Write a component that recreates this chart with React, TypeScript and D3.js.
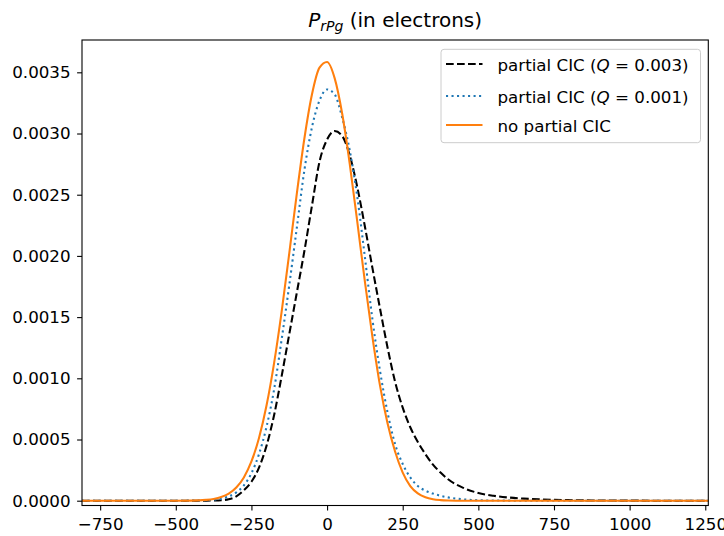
import React, { useEffect, useRef } from 'react';
import * as d3 from 'd3';

const xs = [-810, -600, -500, -450, -400, -375, -350, -325, -300, -275, -250, -225, -200, -175, -150, -125, -100, -75, -50, -25,
	0, 25, 50, 75, 100, 125, 150, 175, 200, 225, 250, 275, 300, 325, 350, 375, 400, 450, 500, 550, 600, 650, 700, 750, 800, 900, 1000, 1260];

const partialQ3 = [0, 0, 0, 0, 0.0000005, 0.0000015, 0.000004, 0.000012, 0.000035, 0.000085, 0.000155, 0.00027, 0.00045, 0.0007, 0.00102, 0.00136, 0.0017, 0.00204, 0.00241, 0.00277,
	0.00295, 0.00302, 0.00298, 0.00282, 0.00256, 0.00224, 0.0019, 0.00157, 0.00125, 0.00097, 0.00076, 0.0006, 0.00048, 0.00038, 0.000295, 0.00023, 0.000175, 0.000105, 0.000063, 0.00004, 0.000026, 0.000017, 0.000011, 0.000007, 0.0000045, 0.0000015, 0.0000005, 0];

const partialQ1 = [0, 0, 0, 0.000001, 0.000004, 0.000008, 0.000017, 0.000035, 0.000068, 0.000125, 0.000225, 0.00038, 0.000605, 0.00091, 0.00132, 0.00176, 0.00223, 0.0027, 0.00305, 0.00327,
	0.00336, 0.00332, 0.00313, 0.00286, 0.00248, 0.00199, 0.00148, 0.00106, 0.00072, 0.00046, 0.0003, 0.00019, 0.00012, 0.000082, 0.000058, 0.00004, 0.000027, 0.000011, 0.000004, 0.0000015, 0.0000005, 0, 0, 0, 0, 0, 0, 0];

const noPartial = [0, 0, 0, 0.0000006, 0.0000066, 0.0000143, 0.0000295, 0.0000578, 0.0001076, 0.0001903, 0.0003205, 0.0005127, 0.0007794, 0.0011265, 0.0015477, 0.0020208, 0.0025083, 0.0029592, 0.0033186, 0.0035378,
	0.0035848, 0.0034527, 0.003161, 0.0027507, 0.0022753, 0.0017893, 0.0013373, 0.00094, 0.00063, 0.0004, 0.00023, 0.00012, 0.00006, 0.000028, 0.000012, 0.000005, 0.000002, 0, 0, 0, 0, 0, 0, 0, 0, 0, 0, 0];

const xTicks = [-750, -500, -250, 0, 250, 500, 750, 1000, 1250];
const yTicks = [0, 0.0005, 0.001, 0.0015, 0.002, 0.0025, 0.003, 0.0035];

const series = [
	{ name: 'partial CIC (', q: '0.003', values: partialQ3, color: '#000000', dash: '7.7,3.3' },
	{ name: 'partial CIC (', q: '0.001', values: partialQ1, color: '#1f77b4', dash: '2.08,3.43' },
	{ name: 'no partial CIC', q: null, values: noPartial, color: '#ff7f0e', dash: null },
];

const W = 724, H = 536;
const left = 82, right = 708.3, top = 40, bottom = 505.5;
const font = 'DejaVu Sans';
const fs = 16.7;

function App() {
	const ref = useRef(null);

	useEffect(() => {
		const svg = d3.select(ref.current);
		svg.selectAll('*').remove();

		const x = d3.scaleLinear().domain([-810, 1260]).range([left, right]);
		const y = d3.scaleLinear().domain([-0.0000392, 0.003764]).range([bottom, top]);

		svg.append('defs').append('clipPath').attr('id', 'plotclip')
			.append('rect').attr('x', left).attr('y', top).attr('width', right - left).attr('height', bottom - top);

		const line = d3.line().x((d) => x(d[0])).y((d) => y(d[1])).curve(d3.curveMonotoneX);

		const g = svg.append('g').attr('clip-path', 'url(#plotclip)');
		series.forEach((s) => {
			g.append('path')
				.datum(xs.map((v, i) => [v, s.values[i]]))
				.attr('d', line)
				.attr('fill', 'none')
				.attr('stroke', s.color)
				.attr('stroke-width', 2.08)
				.attr('stroke-dasharray', s.dash)
				.attr('stroke-linecap', 'butt');
		});

		// axes
		const xAxis = svg.append('g').attr('transform', `translate(0,${bottom})`)
			.call(d3.axisBottom(x).tickValues(xTicks).tickSize(4.9).tickPadding(7.5).tickFormat(d3.format('d')));
		const yAxis = svg.append('g').attr('transform', `translate(${left},0)`)
			.call(d3.axisLeft(y).tickValues(yTicks).tickSize(4.9).tickPadding(6.5).tickFormat(d3.format('.4f')));
		[xAxis, yAxis].forEach((a) => {
			a.select('.domain').remove();
			a.selectAll('line').attr('stroke', '#000').attr('stroke-width', 1.1);
			a.selectAll('text').attr('font-family', font).attr('font-size', fs).attr('fill', '#000');
		});

		svg.append('rect').attr('x', left).attr('y', top).attr('width', right - left).attr('height', bottom - top)
			.attr('fill', 'none').attr('stroke', '#000').attr('stroke-width', 1.1);

		// title
		const title = svg.append('text').attr('x', (left + right) / 2).attr('y', 27)
			.attr('text-anchor', 'middle').attr('font-family', font).attr('font-size', 20).attr('fill', '#000');
		title.append('tspan').attr('font-style', 'italic').text('P');
		title.append('tspan').attr('font-style', 'italic').attr('font-size', 14).attr('dy', 3.5).text('rPg');
		title.append('tspan').attr('dy', -3.5).text(' (in electrons)');

		// legend
		const lg = svg.append('g');
		lg.append('rect').attr('x', 441).attr('y', 49.3).attr('width', 259.5).attr('height', 93.4).attr('rx', 3)
			.attr('fill', 'white').attr('fill-opacity', 0.8).attr('stroke', '#cccccc').attr('stroke-width', 1);
		const rows = [65, 97, 126];
		series.forEach((s, i) => {
			lg.append('line').attr('x1', 446).attr('x2', 482.5).attr('y1', rows[i] - 1).attr('y2', rows[i] - 1)
				.attr('stroke', s.color).attr('stroke-width', 2.08).attr('stroke-dasharray', s.dash);
			const t = lg.append('text').attr('x', 497.5).attr('y', rows[i]).attr('dy', '0.36em')
				.attr('font-family', font).attr('font-size', fs).attr('fill', '#000');
			t.append('tspan').text(s.name);
			if (s.q) {
				t.append('tspan').attr('font-style', 'italic').text('Q');
				t.append('tspan').text(` = ${s.q})`);
			}
		});
	}, []);

	return (
		<svg ref={ref} width={W} height={H} style={{ position: 'absolute', left: 0, top: 0, background: 'white' }} />
	);
}

export default App;
